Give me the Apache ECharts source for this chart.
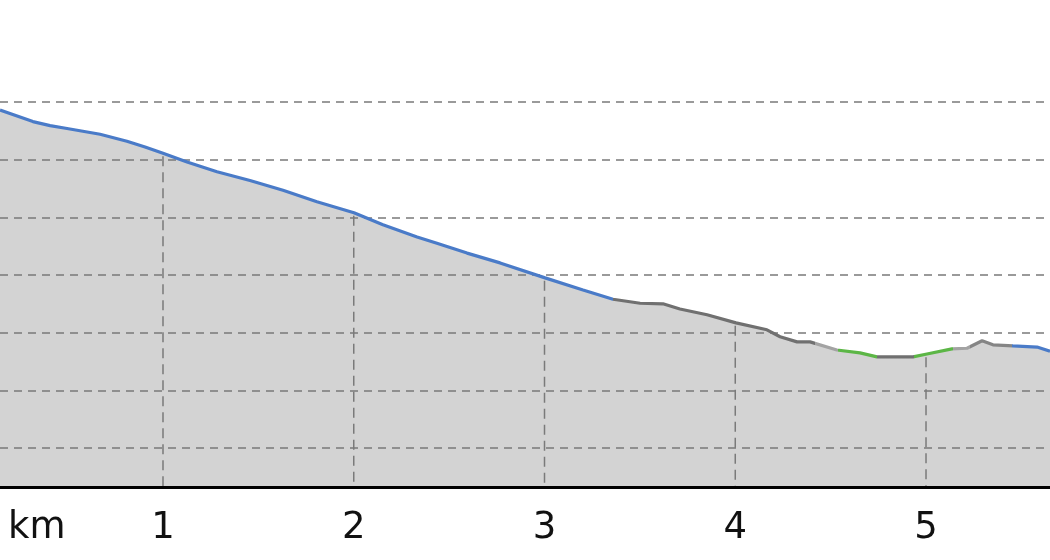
<!DOCTYPE html>
<html>
<head>
<meta charset="utf-8">
<script src="https://cdn.jsdelivr.net/npm/echarts@6/dist/echarts.min.js"></script>
<style>html,body{margin:0;padding:0;background:#fff}#c{width:1050px;height:560px}</style>
</head>
<body>
<div id="c"></div>
<script>
// distance along route (km)
var distKm = [0.1455,0.318,0.408,0.497,0.670,0.811,0.906,1.000,1.126,1.283,1.456,1.629,1.807,2.001,2.153,2.332,2.436,2.594,2.767,3.003,3.202,3.359,3.501,3.621,3.710,3.852,4.004,4.166,4.235,4.324,4.392,4.533,4.654,4.743,4.932,5.005,5.136,5.215,5.294,5.351,5.456,5.582,5.650];
// elevation (m, relative)
var elevation = [98.6,96.6,95.9,95.4,94.4,93.2,92.2,91.1,89.6,87.9,86.4,84.7,82.7,80.8,78.7,76.6,75.5,73.8,72.1,69.5,67.4,65.8,65.1,65.0,64.1,63.1,61.7,60.5,59.3,58.4,58.4,57.0,56.5,55.8,55.8,56.3,57.2,57.3,58.6,57.9,57.7,57.5,56.8];
// km tick labels
var kmTicks = [1,2,3,4,5];
// colour segments of the profile line (start km, colour)
var segStart = [0, 3.36, 4.418, 4.539, 4.743, 4.937, 5.141, 5.231, 5.451];
var segColor = ['#4a7bc8','#707070','#a3a3a3','#5cb646','#707070','#5cb646','#a3a3a3','#858585','#4a7bc8'];

var xMin = 0.1455, xMax = 5.650, yMin = 33.24, yMax = 100;

function interp(k){
  for (var i=0;i<distKm.length-1;i++){
    if (k>=distKm[i] && k<=distKm[i+1]){
      var t=(k-distKm[i])/(distKm[i+1]-distKm[i]);
      return elevation[i]+t*(elevation[i+1]-elevation[i]);
    }
  }
  return elevation[elevation.length-1];
}
var profile = distKm.map(function(d,i){return [d, elevation[i]];});
var vlines = kmTicks.map(function(k){return [k, interp(k)];});
var pieces = segStart.map(function(s,i){
  var p = {gte: s, color: segColor[i]};
  if (i < segStart.length-1) p.lt = segStart[i+1];
  return p;
});

var chart = echarts.init(document.getElementById('c'));
chart.setOption({
  animation: false,
  grid: {left: 0, right: 0, top: 102, bottom: 73, containLabel: false},
  xAxis: {
    type: 'value', min: xMin, max: xMax, z: 8,
    axisLine: {show: true, lineStyle: {color: '#000', width: 3}},
    axisTick: {show: false},
    splitLine: {show: false},
    axisLabel: {customValues: kmTicks, fontSize: 37, color: '#111', fontFamily: 'DejaVu Sans', margin: 23}
  },
  yAxis: {
    type: 'value', min: yMin, max: yMax, z: 5,
    axisLine: {show: false}, axisTick: {show: false}, axisLabel: {show: false},
    splitLine: {show: true, lineStyle: {color: '#7a7a7a', width: 1.5, type: [8, 6]}}
  },
  visualMap: {
    type: 'piecewise', show: false, dimension: 0, seriesIndex: 1,
    pieces: pieces
  },
  graphic: [{
    type: 'text', left: 8, top: 510, z: 20,
    style: {text: 'km', fontSize: 37, fill: '#111', fontFamily: 'DejaVu Sans'}
  }],
  series: [
    {
      type: 'line', data: profile, z: 1, showSymbol: false, silent: true,
      lineStyle: {width: 0}, itemStyle: {color: '#d3d3d3'},
      areaStyle: {color: '#d3d3d3', opacity: 1}
    },
    {
      type: 'line', data: profile, z: 10, showSymbol: false, silent: true,
      lineStyle: {width: 3.2}
    },
    {
      type: 'custom', z: 6, silent: true, data: vlines,
      renderItem: function(params, api){
        var top = api.coord([api.value(0), api.value(1)]);
        var bot = api.coord([api.value(0), yMin]);
        return {type: 'line', shape: {x1: top[0], y1: top[1]+3, x2: bot[0], y2: bot[1]},
          style: {stroke: '#7a7a7a', lineWidth: 1.5, lineDash: [10, 6]}};
      }
    }
  ]
});
</script>
</body>
</html>
